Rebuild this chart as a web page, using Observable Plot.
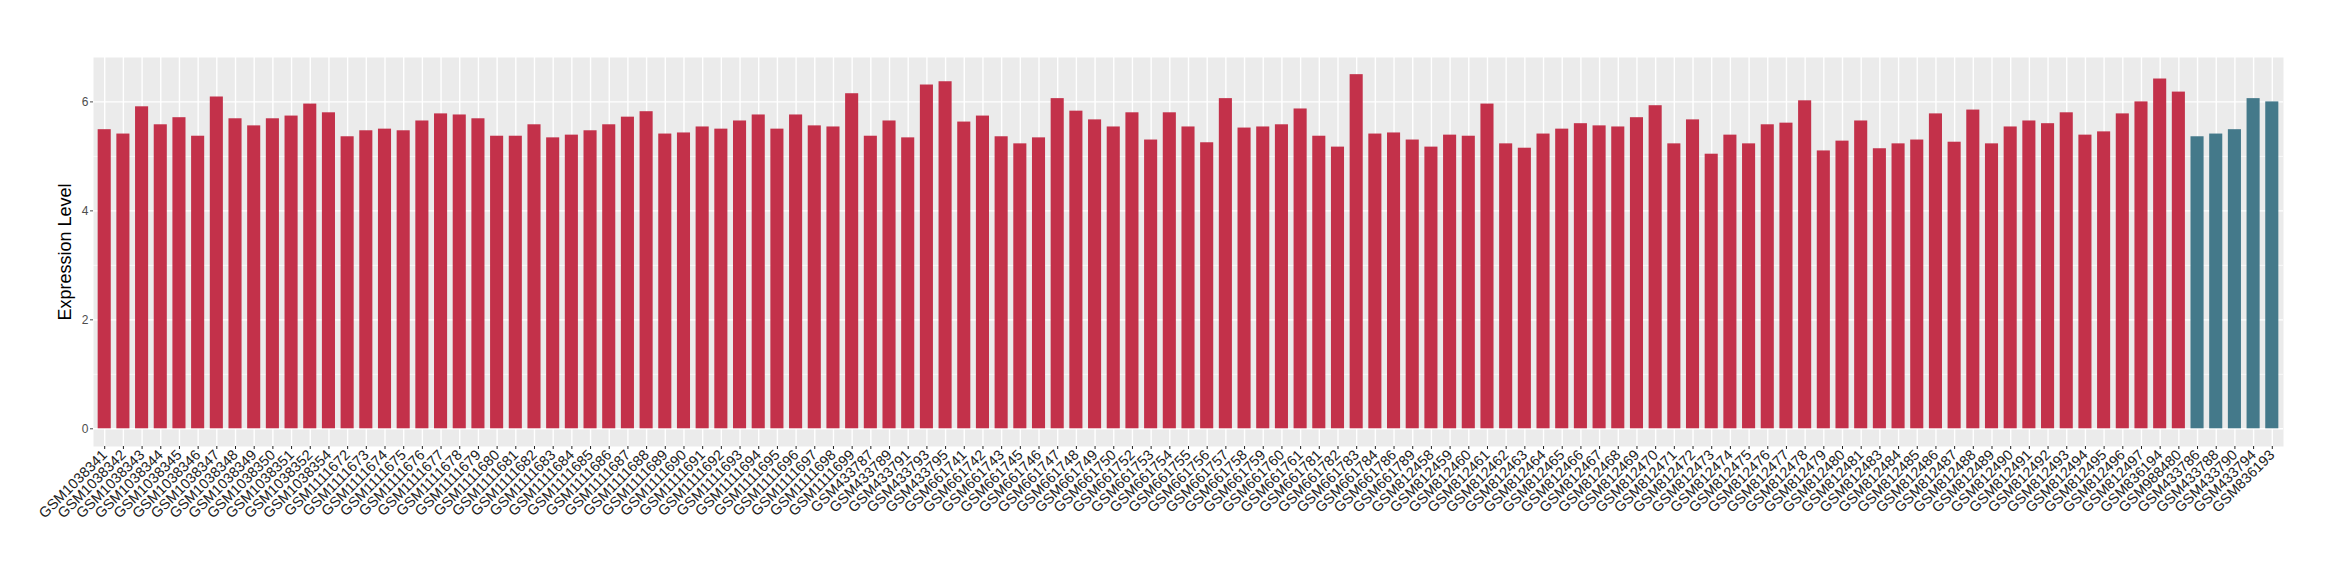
<!DOCTYPE html>
<html><head><meta charset="utf-8">
<script src="https://cdn.jsdelivr.net/npm/d3@7"></script>
<script src="https://cdn.jsdelivr.net/npm/@observablehq/plot@0.6"></script>
<style>html,body{margin:0;padding:0;background:#fff} svg{display:block}</style>
</head><body><div id="chart"></div>
<script>
const caseSamples = [
  "GSM1038341","GSM1038342","GSM1038343","GSM1038344","GSM1038345","GSM1038346","GSM1038347","GSM1038348","GSM1038349","GSM1038350","GSM1038351","GSM1038352","GSM1038354",
  "GSM1111672","GSM1111673","GSM1111674","GSM1111675","GSM1111676","GSM1111677","GSM1111678","GSM1111679","GSM1111680","GSM1111681","GSM1111682","GSM1111683","GSM1111684","GSM1111685","GSM1111686","GSM1111687","GSM1111688","GSM1111689","GSM1111690","GSM1111691","GSM1111692","GSM1111693","GSM1111694","GSM1111695","GSM1111696","GSM1111697","GSM1111698","GSM1111699",
  "GSM433787","GSM433789","GSM433791","GSM433793","GSM433795",
  "GSM661741","GSM661742","GSM661743","GSM661745","GSM661746","GSM661747","GSM661748","GSM661749","GSM661750","GSM661752","GSM661753","GSM661754","GSM661755","GSM661756","GSM661757","GSM661758","GSM661759","GSM661760","GSM661761","GSM661781","GSM661782","GSM661783","GSM661784","GSM661786","GSM661789",
  "GSM812458","GSM812459","GSM812460","GSM812461","GSM812462","GSM812463","GSM812464","GSM812465","GSM812466","GSM812467","GSM812468","GSM812469","GSM812470","GSM812471","GSM812472","GSM812473","GSM812474","GSM812475","GSM812476","GSM812477","GSM812478","GSM812479","GSM812480","GSM812481","GSM812483","GSM812484","GSM812485","GSM812486","GSM812487","GSM812488","GSM812489","GSM812490","GSM812491","GSM812492","GSM812493","GSM812494","GSM812495","GSM812496","GSM812497",
  "GSM836194","GSM988480"
];
const caseValues = [
  5.49,5.41,5.91,5.58,5.71,5.37,6.09,5.69,5.56,5.69,5.74,5.96,5.80,
  5.36,5.47,5.50,5.47,5.65,5.78,5.76,5.69,5.37,5.37,5.58,5.34,5.39,5.47,5.58,5.72,5.82,5.41,5.43,5.54,5.50,5.65,5.76,5.50,5.76,5.56,5.54,6.15,
  5.37,5.65,5.34,6.31,6.37,
  5.63,5.74,5.36,5.23,5.34,6.06,5.83,5.67,5.54,5.80,5.30,5.80,5.54,5.25,6.06,5.52,5.54,5.58,5.87,5.37,5.17,6.50,5.41,5.43,5.30,
  5.17,5.39,5.37,5.96,5.23,5.15,5.41,5.50,5.60,5.56,5.54,5.71,5.93,5.23,5.67,5.04,5.39,5.23,5.58,5.61,6.02,5.10,5.28,5.65,5.14,5.23,5.30,5.78,5.26,5.85,5.23,5.54,5.65,5.60,5.80,5.39,5.45,5.78,6.00,
  6.42,6.18
];
const controlSamples = ["GSM433786","GSM433788","GSM433790","GSM433794","GSM836193"];
const controlValues = [5.36,5.41,5.49,6.06,6.00];
const groupNames = ["Case","Control"];
const groupColors = ["#C3314A","#44798A"];
const yTicks = [0,2,4,6];
const yMinorTicks = [1,3,5];

const data = [
  ...caseSamples.map((s, i) => ({sample: s, value: caseValues[i], group: groupNames[0]})),
  ...controlSamples.map((s, i) => ({sample: s, value: controlValues[i], group: groupNames[1]}))
];
const allSamples = data.map(d => d.sample);

const chart = Plot.plot({
  width: 2340, height: 580,
  marginLeft: 93, marginRight: 57, marginTop: 57, marginBottom: 134,
  style: {fontFamily: "'Liberation Sans', Arial, sans-serif", background: "#fff", color: "#333"},
  x: {domain: allSamples, paddingInner: 0.3, paddingOuter: 0.25, align: 0.5},
  y: {domain: [-0.325, 6.815]},
  color: {domain: groupNames, range: groupColors},
  marks: [
    Plot.frame({fill: "#EBEBEB", stroke: "none"}),
    Plot.ruleY(yMinorTicks, {stroke: "#fff", strokeWidth: 0.7}),
    Plot.ruleY(yTicks, {stroke: "#fff", strokeWidth: 1.4}),
    Plot.ruleX(allSamples, {stroke: "#fff", strokeWidth: 1.4}),
    Plot.barY(data, {x: "sample", y: "value", fill: "group"}),
    Plot.axisY(yTicks, {tickSize: 3, tickPadding: 2, fontSize: 12, color: "#4d4d4d", tickFormat: d3.format("d"), label: null}),
    Plot.axisX({tickSize: 3, tickPadding: 3, tickRotate: -45, fontSize: 14.5, color: "#222", label: null}),
    Plot.text(["Expression Level"], {frameAnchor: "left", textAnchor: "middle", dx: -28, rotate: -90, fontSize: 18, fill: "#000"})
  ]
});
document.getElementById("chart").appendChild(chart);
</script>
</body></html>
